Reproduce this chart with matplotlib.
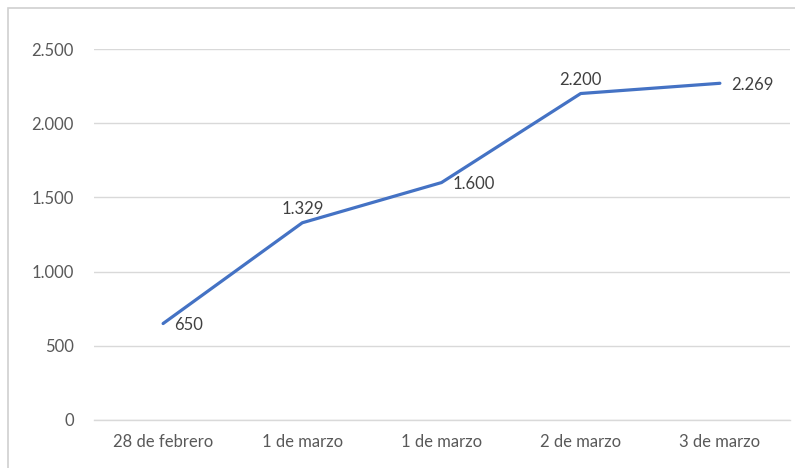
import matplotlib
matplotlib.use("Agg")
import matplotlib.pyplot as plt
from matplotlib.patches import Rectangle
from matplotlib.ticker import FuncFormatter

fechas = ["28 de febrero", "1 de marzo", "1 de marzo", "2 de marzo", "3 de marzo"]
casos = [650, 1329, 1600, 2200, 2269]
posicion_etiqueta = ["right", "above", "right", "above", "right"]

plt.rcParams["font.family"] = ["Lato", "DejaVu Sans"]

fig = plt.figure(figsize=(7.95, 4.68), dpi=100)
# chart frame, clipped at the right and bottom edges
fig.patches.append(Rectangle((8 / 795, -0.05), 1.0, 1.05 - 8 / 468, transform=fig.transFigure,
                             fill=False, edgecolor="#d0d0d0", lw=1.2))

ax = fig.add_axes([93.5 / 795, 48 / 468, 696 / 795, 371 / 468])
x = list(range(len(fechas)))
ax.plot(x, casos, color="#4472c4", lw=2.3, solid_capstyle="round", solid_joinstyle="round", zorder=3)

fmt = lambda v: f"{v:,.0f}".replace(",", ".")
for xi, v, pos in zip(x, casos, posicion_etiqueta):
    if pos == "above":
        ax.annotate(fmt(v), (xi, v), xytext=(0, 4), textcoords="offset points",
                    ha="center", va="bottom", fontsize=12, color="#404040")
    else:
        ax.annotate(fmt(v), (xi, v), xytext=(8, -1), textcoords="offset points",
                    ha="left", va="center", fontsize=12, color="#404040")

ax.set_xlim(-0.5, len(fechas) - 0.5)
ax.set_ylim(0, 2500)
ax.set_yticks(range(0, 2501, 500))
ax.yaxis.set_major_formatter(FuncFormatter(lambda v, _: fmt(v)))
ax.set_xticks(x, fechas)
ax.grid(axis="y", color="#d9d9d9", lw=1.0)
ax.set_axisbelow(True)
for s in ["top", "right", "left"]:
    ax.spines[s].set_visible(False)
ax.spines["bottom"].set_color("#d9d9d9")
ax.spines["bottom"].set_linewidth(1.0)
ax.tick_params(length=0, labelsize=12, labelcolor="#595959")
ax.tick_params(axis="y", pad=14)
ax.tick_params(axis="x", pad=10)

fig.savefig("out.png", dpi=100)
